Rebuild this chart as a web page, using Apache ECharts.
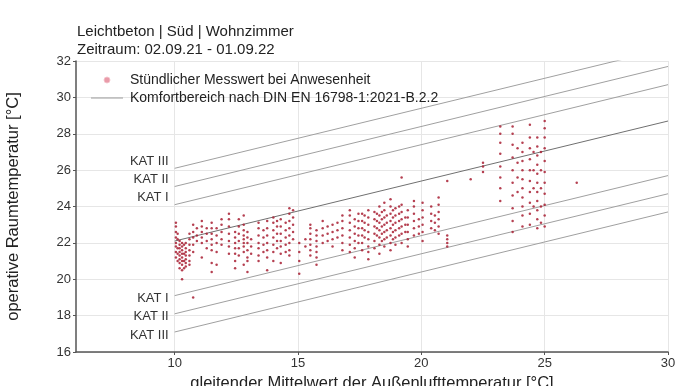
<!DOCTYPE html>
<html>
<head>
<meta charset="utf-8">
<script src="https://cdn.jsdelivr.net/npm/echarts@6/dist/echarts.min.js"></script>
<style>html,body{margin:0;padding:0;background:#fff;}#c{width:683px;height:386px;}</style>
</head>
<body>
<div id="c"></div>
<script>
const titleText = 'Leichtbeton | Süd | Wohnzimmer\nZeitraum: 02.09.21 - 01.09.22';
const scatterName = 'Stündlicher Messwert bei Anwesenheit';
const lineName = 'Komfortbereich nach DIN EN 16798-1:2021-B.2.2';
const xTicks = [10, 15, 20, 25, 30];
const yTicks = [16, 18, 20, 22, 24, 26, 28, 30, 32];

// comfort lines: start value at x=10, end value at x=30
const lineX = [10, 30];
const lineLabels = ['KAT III', 'KAT II', 'KAT I', '', 'KAT I', 'KAT II', 'KAT III'];
const lineStart = [26.1, 25.1, 24.1, 22.1, 19.1, 18.1, 17.1];
const lineEnd = [32.7, 31.7, 30.7, 28.7, 25.7, 24.7, 23.7];

// hourly measurements, grouped by running-mean outdoor temperature
const messColumns = [
  [10.05, [21.2, 21.5, 21.8, 22.0, 22.3, 22.6, 22.9, 23.1]],
  [10.12, [21.0, 21.4, 21.7, 22.2, 22.5]],
  [10.2, [20.6, 20.9, 21.1, 21.3, 21.5, 21.7, 21.9, 22.1]],
  [10.3, [20.5, 20.8, 21.0, 21.2, 21.4, 21.6, 21.8, 22.0, 20.0]],
  [10.38, [20.6, 21.0, 21.4, 21.9]],
  [10.45, [20.7, 20.9, 21.1, 21.3, 21.5, 21.7, 22.0]],
  [10.6, [20.8, 21.0, 21.3, 21.6, 21.9, 22.2, 22.5]],
  [10.75, [21.5, 21.9, 22.3, 22.6, 23.0, 19.0]],
  [10.9, [22.1, 22.4, 22.8]],
  [11.1, [22.0, 22.3, 22.6, 22.9, 23.2, 21.2]],
  [11.3, [21.7, 22.1, 22.5, 22.8]],
  [11.5, [21.6, 21.9, 22.2, 22.5, 22.8, 23.1, 20.9, 20.4]],
  [11.7, [21.5, 22.0, 22.4, 22.8, 20.8]],
  [11.9, [21.9, 22.2, 22.6, 23.0, 23.3]],
  [12.2, [21.8, 22.1, 22.5, 22.9, 23.3, 23.6, 21.4]],
  [12.45, [21.0, 21.4, 21.7, 22.0, 22.3, 22.6, 20.6]],
  [12.6, [21.3, 21.7, 22.1, 22.5, 22.9, 23.3]],
  [12.8, [21.5, 21.8, 22.0, 22.2, 22.4, 22.7, 23.0, 23.5, 20.8]],
  [12.95, [21.2, 21.6, 22.0, 22.3, 22.6, 21.0, 20.4]],
  [13.1, [21.4, 21.8, 22.2]],
  [13.4, [21.0, 21.3, 21.7, 22.0, 22.4, 22.8, 23.1]],
  [13.6, [21.5, 21.9, 22.3, 22.7]],
  [13.75, [21.2, 21.6, 22.0, 22.4, 22.8, 23.2, 20.5]],
  [14.0, [21.5, 21.9, 22.3, 22.7, 23.1, 23.4, 21.0]],
  [14.15, [21.7, 22.1, 22.5, 22.9, 23.2]],
  [14.3, [21.4, 21.8, 22.1, 22.5, 22.9, 23.3, 20.9]],
  [14.5, [21.5, 21.9, 22.3, 22.7, 23.1]],
  [14.65, [21.6, 22.0, 22.4, 22.8, 23.2, 23.6, 23.9, 21.3]],
  [14.8, [22.2, 22.6, 23.0, 23.4, 23.8]],
  [15.05, [21.0, 21.5, 22.0, 20.3]],
  [15.3, [21.8, 22.2]],
  [15.5, [21.6, 21.9, 22.2, 22.5, 22.8, 23.0, 21.3]],
  [15.75, [21.5, 21.8, 22.1, 22.4, 22.7, 21.2, 20.8]],
  [16.0, [22.0, 22.4, 22.8, 23.2]],
  [16.2, [22.1, 22.5, 22.9]],
  [16.4, [21.8, 22.2, 22.6, 23.0]],
  [16.6, [22.3, 22.7, 23.1]],
  [16.8, [22.0, 22.4, 22.8, 23.2, 23.5, 21.6]],
  [17.1, [21.9, 22.3, 22.7, 23.1, 23.5, 23.8, 21.5]],
  [17.3, [21.7, 22.1, 22.5, 22.9, 23.3, 21.2]],
  [17.45, [22.0, 22.4, 22.8, 23.2, 23.6]],
  [17.6, [22.0, 22.4, 22.8, 23.2, 23.6, 21.6]],
  [17.7, [22.3, 22.7, 23.1, 23.5]],
  [17.85, [21.8, 22.2, 22.6, 23.0, 23.4, 23.8, 21.5, 21.1]],
  [18.1, [22.1, 22.5, 22.9, 23.3, 23.7, 21.7]],
  [18.2, [22.4, 22.8, 23.2, 23.6]],
  [18.3, [21.9, 22.3, 22.7, 23.1, 23.5, 24.0, 21.4]],
  [18.4, [22.1, 22.5, 22.9, 23.3, 23.7]],
  [18.5, [22.2, 22.6, 23.0, 23.4, 23.8, 24.2, 21.8]],
  [18.6, [22.3, 22.7, 23.1, 23.5]],
  [18.75, [22.0, 22.4, 22.8, 23.2, 23.6, 24.0, 24.4, 21.6]],
  [18.85, [22.2, 22.6, 23.0, 23.4, 23.8]],
  [18.95, [22.3, 22.7, 23.1, 23.5, 23.9, 21.9]],
  [19.1, [22.4, 22.8, 23.2, 23.6, 24.0]],
  [19.2, [22.5, 22.9, 23.3, 23.7, 24.1, 25.6, 22.0]],
  [19.35, [22.6, 23.0, 23.4]],
  [19.45, [22.2, 22.6, 23.0, 23.4, 23.8, 21.8]],
  [19.7, [22.4, 22.8, 23.2, 23.6, 24.0, 24.3]],
  [19.9, [22.5, 22.9, 23.3]],
  [20.05, [22.6, 23.0, 23.4, 23.8, 24.2, 22.1]],
  [20.4, [22.8, 23.2, 23.6, 24.0]],
  [20.55, [22.7, 23.1, 23.5]],
  [20.7, [22.5, 22.9, 23.3, 23.7, 24.1, 24.5]],
  [21.05, [21.8, 22.0, 22.2, 22.4, 25.4]],
  [22.0, [25.5]],
  [22.5, [25.9, 26.2, 26.4]],
  [23.2, [24.3, 25.0, 25.6, 26.2, 26.9, 27.5, 28.0, 28.4]],
  [23.7, [23.2, 23.9, 24.6, 25.3, 26.0, 26.7, 27.4, 28.0, 28.4, 22.6]],
  [23.9, [24.8, 25.6, 26.4, 27.2]],
  [24.1, [22.9, 23.5, 24.0, 24.5, 25.0, 25.5, 26.0, 26.5, 27.0, 27.5]],
  [24.4, [23.0, 23.6, 24.2, 24.8, 25.4, 26.0, 26.6, 27.2, 27.8, 28.5]],
  [24.55, [24.0, 25.0, 26.0, 27.0]],
  [24.7, [22.8, 23.3, 23.8, 24.3, 24.8, 25.3, 25.8, 26.3, 26.8, 27.3, 27.8]],
  [24.85, [23.1, 24.0, 25.0, 26.0, 27.0]],
  [25.0, [22.9, 23.5, 24.1, 24.7, 25.3, 25.9, 26.5, 27.2, 27.8, 28.3, 28.7]],
  [26.3, [25.3]]
];

const scatterData = [];
messColumns.forEach(function (c) { c[1].forEach(function (y) { scatterData.push([c[0], y]); }); });

const FONT = '"Liberation Sans", Arial, sans-serif';
const series = [{
  name: scatterName,
  type: 'scatter',
  symbol: 'circle',
  symbolSize: 2.5,
  itemStyle: { color: '#a81e33', opacity: 0.85 },
  data: scatterData,
  z: 3
}];
lineStart.forEach(function (s, i) {
  const upper = i < 3;
  const mp = lineLabels[i] ? {
    symbol: 'circle', symbolSize: 0, silent: true,
    data: [{
      coord: [lineX[0], s],
      label: {
        show: true, formatter: lineLabels[i], position: 'left', distance: 6,
        offset: [0, upper ? -7 : 3],
        color: '#333', fontSize: 13, fontFamily: FONT
      }
    }]
  } : undefined;
  series.push({
    name: lineName,
    type: 'line',
    symbol: 'none',
    showSymbol: false,
    clip: true,
    silent: true,
    lineStyle: { color: i === 3 ? '#707070' : '#a0a0a0', width: 1 },
    itemStyle: { color: '#a0a0a0' },
    data: [[lineX[0], s], [lineX[1], lineEnd[i]]],
    markPoint: mp,
    z: 2
  });
});

const chart = echarts.init(document.getElementById('c'), null, { renderer: 'canvas' });
chart.setOption({
  animation: false,
  backgroundColor: '#fff',
  textStyle: { fontFamily: FONT },
  title: {
    text: titleText,
    left: 72, top: 18,
    textStyle: { fontSize: 15, fontWeight: 'normal', color: '#222', lineHeight: 18, fontFamily: FONT }
  },
  legend: {
    orient: 'vertical', left: 86, top: 68,
    itemWidth: 32, itemHeight: 6, itemGap: 4,
    textStyle: { fontSize: 14, color: '#222', fontFamily: FONT, padding: [0, 0, 0, 2] },
    data: [
      { name: scatterName, icon: 'circle', itemStyle: { color: '#e58a9a', borderColor: '#f4c4cc', borderWidth: 1 } },
      { name: lineName, icon: 'path://M0,0L30,0L30,1L0,1Z', itemStyle: { color: '#a0a0a0' } }
    ]
  },
  grid: { left: 76, right: 15, top: 61, bottom: 34, outerBoundsMode: 'none', containLabel: false },
  xAxis: {
    type: 'value', min: 6, max: 30,
    name: 'gleitender Mittelwert der Außenlufttemperatur [°C]',
    nameLocation: 'middle', nameGap: 23,
    nameTextStyle: { fontSize: 16.5, color: '#222', fontFamily: FONT },
    axisLine: { lineStyle: { color: '#555', width: 1.5 } },
    axisTick: { show: true, length: 3, customValues: xTicks, lineStyle: { color: '#555' } },
    axisLabel: { customValues: xTicks, fontSize: 13, color: '#333', margin: 5, fontFamily: FONT },
    splitLine: { show: true, lineStyle: { color: '#e6e6e6', width: 1 } }
  },
  yAxis: {
    type: 'value', min: 16, max: 32, interval: 2,
    name: 'operative Raumtemperatur [°C]',
    nameLocation: 'middle', nameGap: 54,
    nameTextStyle: { fontSize: 16.5, color: '#222', fontFamily: FONT },
    axisLine: { show: true, lineStyle: { color: '#555', width: 1.5 } },
    axisTick: { show: true, length: 3, lineStyle: { color: '#555' } },
    axisLabel: { fontSize: 13, color: '#333', margin: 5, fontFamily: FONT },
    splitLine: { show: true, lineStyle: { color: '#e6e6e6', width: 1 } }
  },
  series: series
});
</script>
</body>
</html>
